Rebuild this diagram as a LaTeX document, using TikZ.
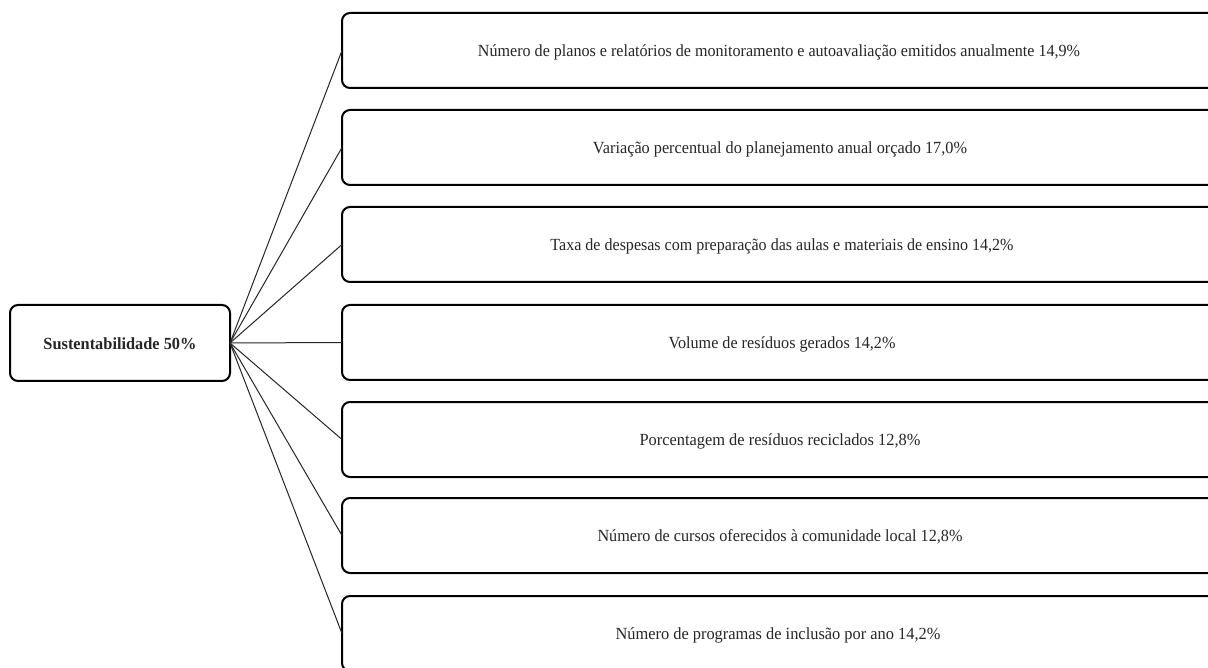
\documentclass[tikz,border=0pt]{standalone}
\usepackage{fontspec}
\setmainfont{Liberation Serif}
\usepackage{graphicx}
\newcommand{\fitw}[2]{\resizebox{#1pt}{\height}{#2}}
\begin{document}
\begin{tikzpicture}[x=1pt,y=-1pt,
  box/.style={draw=black,line width=2pt,rounded corners=8pt},
  lbl/.style={inner sep=0pt,font=\fontsize{17}{20}\selectfont,text=black!85},
  conn/.style={draw=black!85,line width=1pt}]
\useasboundingbox (0,0) rectangle (1208,668);
\fill[white] (0,0) rectangle (1208,668);
\clip (0,0) rectangle (1208,668);
% main
\draw[box] (10,305) rectangle (230,381);
\node[lbl,font=\fontsize{17}{20}\selectfont\bfseries] (main) at (120,344) {\fitw{153}{Sustentabilidade 50\%}};
\coordinate (hub) at (230,343);
% right boxes
\foreach \i/\t in {0/13,1/110,2/207,3/305,4/402,5/498,6/596}{
  \draw[box] (342,\t) rectangle (1230,\t+75);
  \coordinate (b\i) at (342,\t+37.5);
}
\node[lbl] (t0) at (779,52) {\fitw{602}{Número de planos e relatórios de monitoramento e autoavaliação emitidos anualmente 14,9\%}};
\node[lbl] (t1) at (780,149) {\fitw{374}{Variação percentual do planejamento anual orçado 17,0\%}};
\node[lbl] (t2) at (782,246) {\fitw{463}{Taxa de despesas com preparação das aulas e materiais de ensino 14,2\%}};
\node[lbl] (t3) at (782,344) {\fitw{227}{Volume de resíduos gerados 14,2\%}};
\node[lbl] (t4) at (780,441) {\fitw{281}{Porcentagem de resíduos reciclados 12,8\%}};
\node[lbl] (t5) at (780,537) {\fitw{365}{Número de cursos oferecidos à comunidade local 12,8\%}};
\node[lbl] (t6) at (778,635) {\fitw{325}{Número de programas de inclusão por ano 14,2\%}};
% connectors
\foreach \i in {0,...,6}{
  \draw[conn] (hub) -- (b\i);
}
\end{tikzpicture}
\end{document}
